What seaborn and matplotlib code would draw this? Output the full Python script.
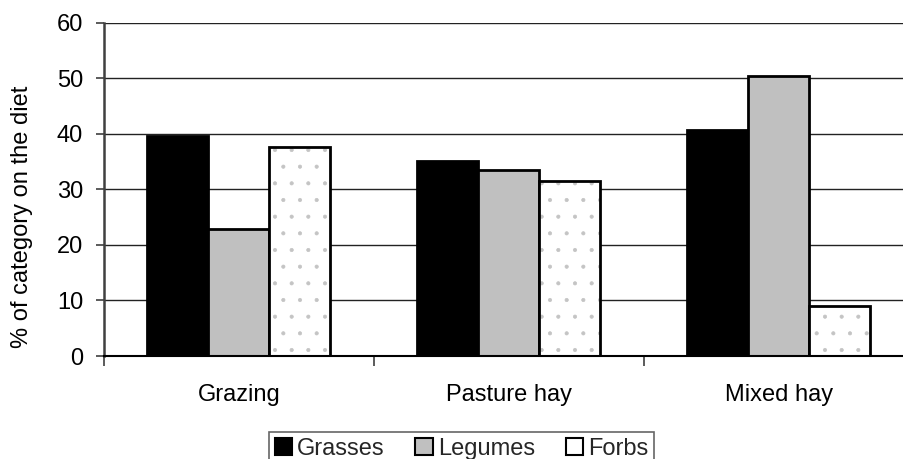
import matplotlib
matplotlib.use("Agg")
import matplotlib.pyplot as plt
import seaborn as sns
import pandas as pd
from matplotlib.patches import Patch, Rectangle

categories = ["Grazing", "Pasture hay", "Mixed hay"]
series = ["Grasses", "Legumes", "Forbs"]
grasses = [39.7, 35.2, 40.7]
legumes = [22.9, 33.5, 50.5]
forbs = [37.6, 31.5, 9.0]
yticks = [0, 10, 20, 30, 40, 50, 60]
ylabel = "% of category on the diet"
colors = ["#000000", "#c0c0c0", "#ffffff"]

sns.set_theme(style="white")
plt.rcParams['font.family'] = ['Liberation Sans', 'DejaVu Sans']
plt.rcParams['hatch.linewidth'] = 0.5

df = pd.DataFrame({
    "cat": categories * 3,
    "series": [s for s in series for _ in categories],
    "value": grasses + legumes + forbs,
})

fig = plt.figure(figsize=(9.04, 4.59), dpi=100)
ax = fig.add_axes([0.115, 0.2244, 0.896, 0.7255])
ax.yaxis.grid(True, color='#222222', lw=1.0)
ax.set_axisbelow(True)

sns.barplot(data=df, x="cat", y="value", hue="series", order=categories,
            hue_order=series, palette=colors, width=0.678, edgecolor='black',
            linewidth=2, legend=False, ax=ax, errorbar=None, saturation=1)

# dotted fill for Forbs
for bar in ax.containers[2]:
    bar.set_hatch('.')
    bar.set_edgecolor('#c4c4c4')
    bar.set_linewidth(0)
    ax.add_patch(Rectangle(bar.get_xy(), bar.get_width(), bar.get_height(),
                           fill=False, edgecolor='black', lw=2, zorder=bar.get_zorder() + 0.1))

ax.set_ylim(0, 60)
ax.set_xlim(-0.5, 2.5)
ax.set_yticks(yticks)
ax.set_yticklabels([str(v) for v in yticks], fontsize=17, color='black')
ax.set_xticks(range(len(categories)))
ax.set_xticklabels(categories, fontsize=17, color='black')
ax.set_xticks([-0.5, 0.5, 1.5, 2.5], minor=True)
ax.tick_params(axis='x', which='major', length=0, pad=20)
ax.tick_params(axis='x', which='minor', length=7, width=1.2, color='#404040', direction='out', bottom=True)
ax.tick_params(axis='y', length=6, width=1.2, color='#404040', direction='out', left=True, pad=9)
ax.set_xlabel("")
ax.set_ylabel(ylabel, fontsize=17, color='black')
ax.yaxis.set_label_coords(-0.088, 0.417)

for s in ['top', 'right']:
    ax.spines[s].set_visible(False)
ax.spines['left'].set_color('#404040')
ax.spines['left'].set_linewidth(1.8)
ax.spines['bottom'].set_color('black')
ax.spines['bottom'].set_linewidth(1.5)

handles = [Patch(facecolor=c, edgecolor='black', lw=1.5) for c in colors]
leg = fig.legend(handles, series, loc='upper center', bbox_to_anchor=(0.5105, 0.0588),
                 ncol=3, fontsize=17, frameon=True, fancybox=False, edgecolor='#404040',
                 handlelength=0.75, handleheight=0.75, handletextpad=0.2,
                 columnspacing=1.3, borderpad=0.25, borderaxespad=0)
leg.get_frame().set_linewidth(1.2)

fig.savefig("out.png", dpi=100)
